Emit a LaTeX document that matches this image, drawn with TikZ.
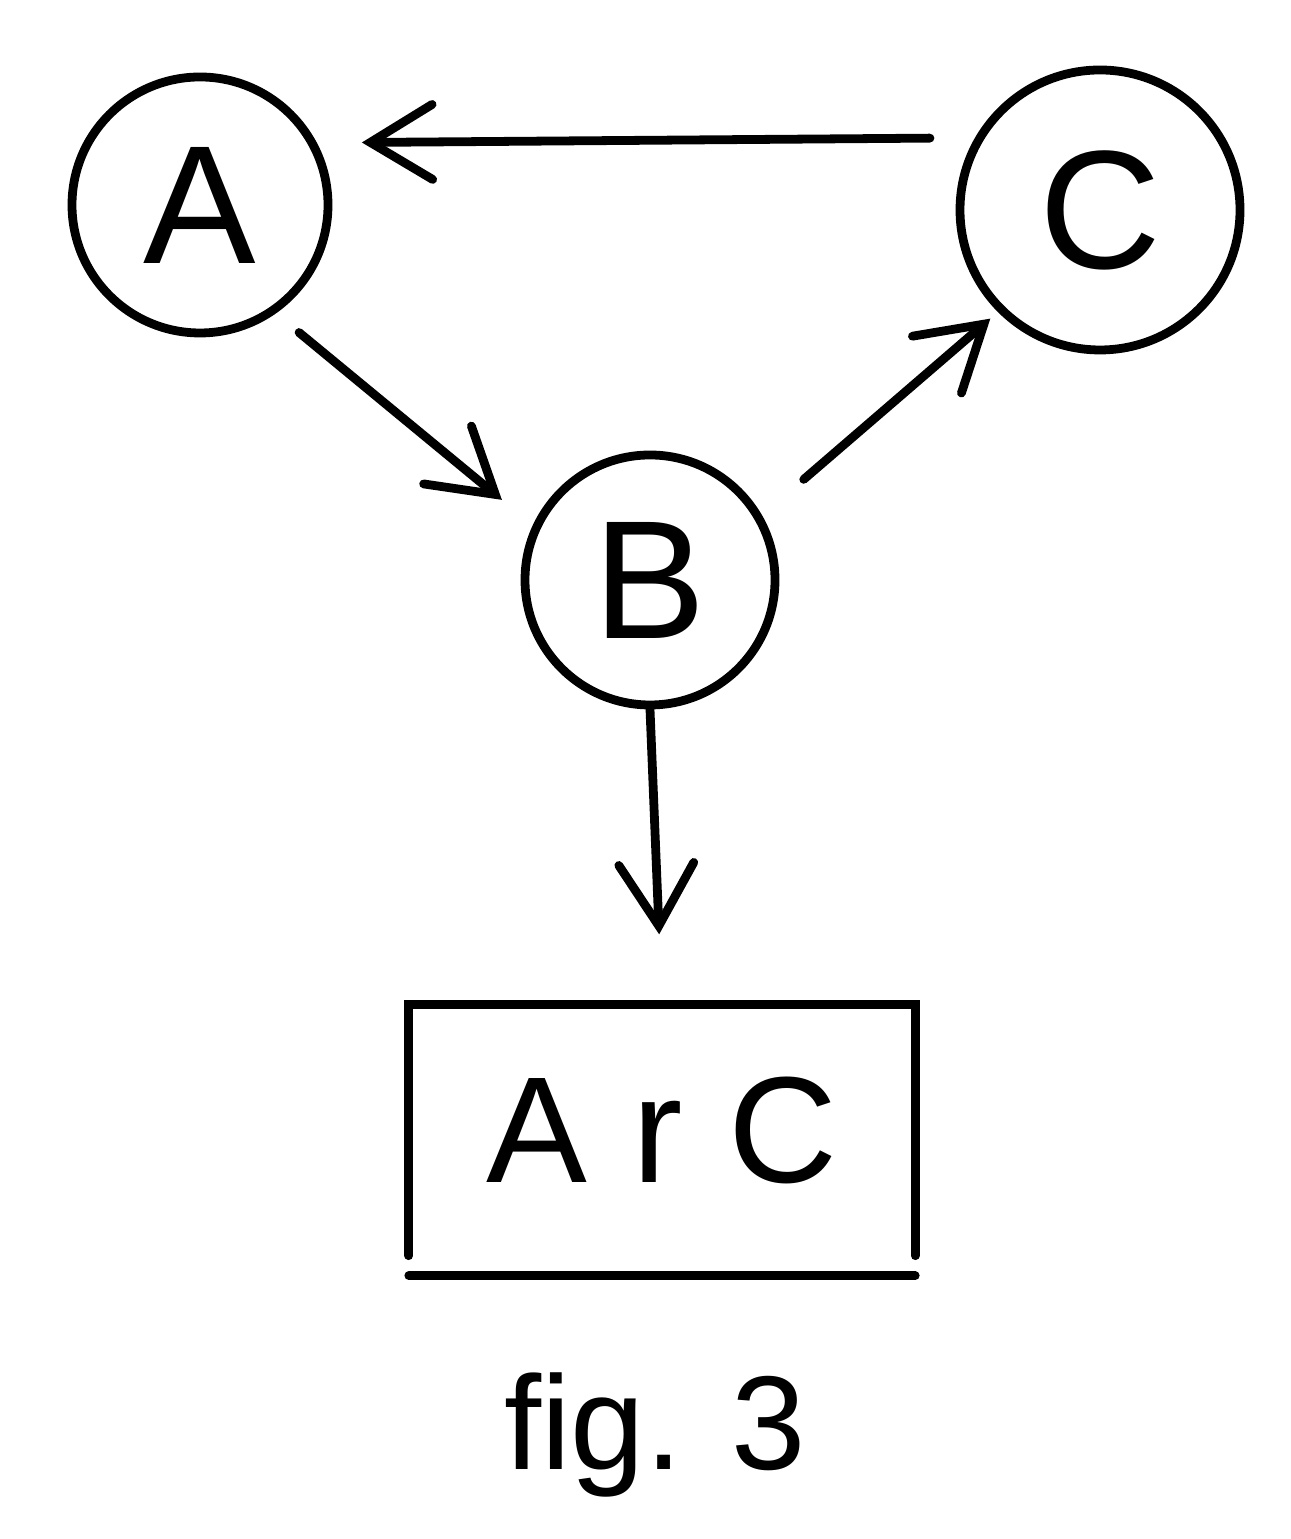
\documentclass[tikz,border=0pt]{standalone}
\usepackage{fontspec}
\setmainfont{Liberation Sans}
\newfontfamily\boxfont[LetterSpace=30]{Liberation Sans}
\usetikzlibrary{arrows.meta, positioning}

\tikzset{
  state/.style={draw, circle, inner sep=0pt, line width=2.5pt, font=\fontsize{48}{50}\selectfont},
  link/.style={line width=2.5pt, line cap=round, -{Straight Barb[length=0.62cm, width=0.75cm, line width=2.5pt, line cap=round]}},
  outline/.style={line width=2.5pt, line cap=round}
}

\begin{document}
\begin{tikzpicture}
  \useasboundingbox (0,0) rectangle (12.91,15.39);

  % States
  \node[state, minimum size=2.56cm] (A) at (2.0,13.34) {A};
  \node[state, minimum size=2.5cm] (B) at (6.5,9.59) {B};
  \node[state, minimum size=2.8cm] (C) at (11.0,13.29) {C};

  % Result box
  \node[minimum width=5.05cm, minimum height=2.5cm, font=\boxfont\fontsize{43}{45}\selectfont] (arc) at (6.62,4.09) {ArC};
  \draw[outline] (arc.south west) -- (arc.north west) -- (arc.north east) -- (arc.south east);
  \draw[outline] ([yshift=-0.2cm]arc.south west) -- ([yshift=-0.2cm]arc.south east);

  % Caption
  \node[font=\fontsize{38}{40}\selectfont] (caption) at (6.55,1.04) {fig. 3};

  % Links
  \draw[link, shorten <=0.45cm, shorten >=0.45cm] (C.150) -- (A.28);
  \draw[link, shorten <=0.3cm, shorten >=0.4cm] (A.-55) -- (B.155);
  \draw[link, shorten <=0.55cm, shorten >=0.1cm] (B.30) -- (C.225);
  \draw[link, shorten >=0.7cm] (B.south) -- (arc.north);
\end{tikzpicture}
\end{document}
